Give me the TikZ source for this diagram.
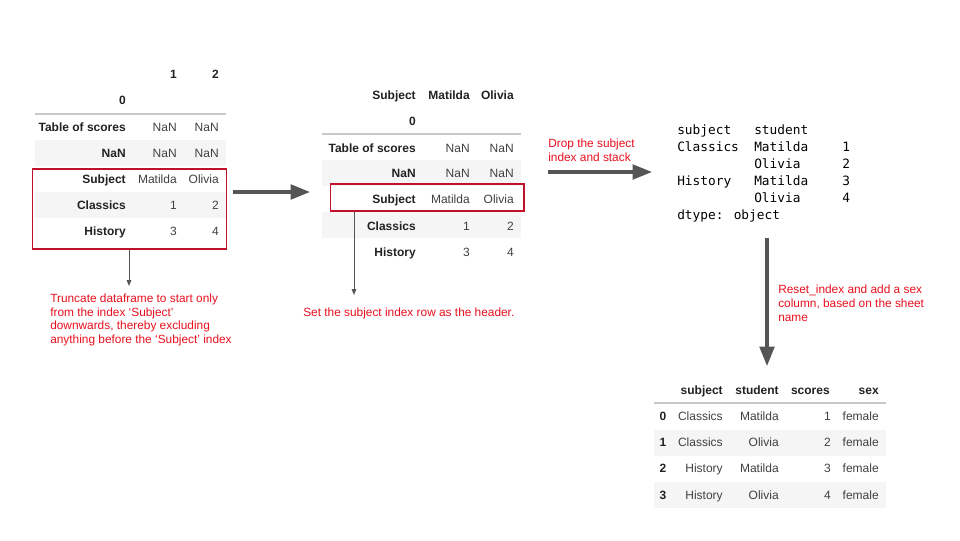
\documentclass[tikz,border=0pt]{standalone}
\usepackage{fontspec}
\setmainfont{Liberation Sans}
\newfontfamily\codefont{DejaVu Sans Mono}
\usetikzlibrary{arrows.meta}
\definecolor{txt}{HTML}{404040}
\definecolor{txtb}{HTML}{222222}
\definecolor{band}{HTML}{F5F5F5}
\definecolor{hline}{HTML}{C8C8C8}
\definecolor{boxred}{HTML}{C0102A}
\definecolor{notered}{HTML}{E8101E}
\definecolor{arrowgray}{HTML}{555555}
\tikzset{
  cell/.style={font=\fontsize{9}{10}\selectfont, text=txt, inner sep=0pt, anchor=base east},
  hcell/.style={cell, font=\fontsize{9}{10}\selectfont\bfseries, text=txtb},
  note/.style={font=\fontsize{8.9}{10.3}\selectfont, text=notered, align=left, anchor=north west, inner sep=0pt},
  mono/.style={font=\codefont\fontsize{9.6}{12}\selectfont, text=black, inner sep=0pt, anchor=base west},
  bandrow/.style={fill=band, draw=none},
  headline/.style={draw=hline, line width=0.8pt},
  redbox/.style={draw=boxred, line width=0.8pt},
  bigarrow/.style={draw=arrowgray, line width=2.3pt, -{Triangle[length=14.5pt,width=11pt]}},
  thinarrow/.style={draw=arrowgray, line width=0.7pt, -{Triangle[length=4.5pt,width=3.5pt]}},
}
\begin{document}
\begin{tikzpicture}[x=0.75pt,y=-0.75pt]
\useasboundingbox[fill=white] (0,0) rectangle (960,540);

% ---------- Table 1 ----------
\fill[bandrow] (35,140) rectangle (226,166);
\fill[bandrow] (35,192) rectangle (226,218);
\draw[headline] (35,114) -- (226,114);
\node[hcell] (t1h1) at (177,78) {1};
\node[hcell] (t1h2) at (219,78) {2};
\node[hcell] (t1h0) at (126,104) {0};
\node[hcell] (t1r1) at (126,131) {Table of scores};
\node[cell] (t1r1a) at (177,131) {NaN};
\node[cell] (t1r1b) at (219,131) {NaN};
\node[hcell] (t1r2) at (126,157) {NaN};
\node[cell] (t1r2a) at (177,157) {NaN};
\node[cell] (t1r2b) at (219,157) {NaN};
\node[hcell] (t1r3) at (126,183) {Subject};
\node[cell] (t1r3a) at (177,183) {Matilda};
\node[cell] (t1r3b) at (219,183) {Olivia};
\node[hcell] (t1r4) at (126,209) {Classics};
\node[cell] (t1r4a) at (177,209) {1};
\node[cell] (t1r4b) at (219,209) {2};
\node[hcell] (t1r5) at (126,235) {History};
\node[cell] (t1r5a) at (177,235) {3};
\node[cell] (t1r5b) at (219,235) {4};
\draw[redbox] (32.5,169) rectangle (226.5,249);
\coordinate (box1s) at (129,249.5);
\coordinate (note1t) at (129,286);
\draw[thinarrow] (box1s) -- (note1t);
\node[note] (note1) at (50,293.5) {Truncate dataframe to start only\\from the index ‘Subject’\\downwards, thereby excluding\\anything before the ‘Subject’ index};

% ---------- Arrow 1 ----------
\coordinate (a1s) at (233,192);
\coordinate (a1e) at (310,192);
\draw[bigarrow] (a1s) -- (a1e);

% ---------- Table 2 ----------
\fill[bandrow] (322,160) rectangle (521,186);
\fill[bandrow] (322,212) rectangle (521,238);
\draw[headline] (322,134) -- (521,134);
\node[hcell] (t2h0) at (416,99) {Subject};
\node[hcell] (t2h1) at (470,99) {Matilda};
\node[hcell] (t2h2) at (514,99) {Olivia};
\node[hcell] (t2h3) at (416,125) {0};
\node[hcell] (t2r1) at (416,152) {Table of scores};
\node[cell] (t2r1a) at (470,152) {NaN};
\node[cell] (t2r1b) at (514,152) {NaN};
\node[hcell] (t2r2) at (416,177) {NaN};
\node[cell] (t2r2a) at (470,177) {NaN};
\node[cell] (t2r2b) at (514,177) {NaN};
\node[hcell] (t2r3) at (416,203) {Subject};
\node[cell] (t2r3a) at (470,203) {Matilda};
\node[cell] (t2r3b) at (514,203) {Olivia};
\node[hcell] (t2r4) at (416,230) {Classics};
\node[cell] (t2r4a) at (470,230) {1};
\node[cell] (t2r4b) at (514,230) {2};
\node[hcell] (t2r5) at (416,256) {History};
\node[cell] (t2r5a) at (470,256) {3};
\node[cell] (t2r5b) at (514,256) {4};
\draw[redbox] (330.5,184) rectangle (524,211);
\coordinate (box2s) at (354,211.5);
\coordinate (note2t) at (354,295);
\draw[thinarrow] (box2s) -- (note2t);
\node[note, anchor=north west] (note2) at (303,307.5) {Set the subject index row as the header.};

% ---------- Arrow 2 ----------
\node[note] (note3) at (548,138.5) {Drop the subject\\index and stack};
\coordinate (a2s) at (548,172);
\coordinate (a2e) at (652,172);
\draw[bigarrow] (a2s) -- (a2e);

% ---------- Stacked series ----------
\node[mono] (s11) at (677,134) {subject};
\node[mono] (s12) at (754,134) {student};
\node[mono] (s21) at (677,151) {Classics};
\node[mono] (s22) at (754,151) {Matilda};
\node[mono] (s23) at (842,151) {1};
\node[mono] (s32) at (754,168) {Olivia};
\node[mono] (s33) at (842,168) {2};
\node[mono] (s41) at (677,185) {History};
\node[mono] (s42) at (754,185) {Matilda};
\node[mono] (s43) at (842,185) {3};
\node[mono] (s52) at (754,202) {Olivia};
\node[mono] (s53) at (842,202) {4};
\node[mono] (s61) at (677,219) {dtype: object};

% ---------- Arrow 3 ----------
\coordinate (a3s) at (767,238);
\coordinate (a3e) at (767,366);
\draw[bigarrow] (a3s) -- (a3e);
\node[note] (note4) at (778,285) {Reset\_index and add a sex\\column, based on the sheet\\name};

% ---------- Table 4 ----------
\fill[bandrow] (654,430) rectangle (886,456);
\fill[bandrow] (654,482) rectangle (886,508);
\draw[headline] (654,403) -- (886,403);
\node[hcell] (t4h1) at (723,394) {subject};
\node[hcell] (t4h2) at (779,394) {student};
\node[hcell] (t4h3) at (830,394) {scores};
\node[hcell] (t4h4) at (879,394) {sex};
\node[hcell, anchor=base] (t4i0) at (663,420) {0};
\node[cell] (t4a0) at (723,420) {Classics};
\node[cell] (t4b0) at (779,420) {Matilda};
\node[cell] (t4c0) at (831,420) {1};
\node[cell] (t4d0) at (879,420) {female};
\node[hcell, anchor=base] (t4i1) at (663,446) {1};
\node[cell] (t4a1) at (723,446) {Classics};
\node[cell] (t4b1) at (779,446) {Olivia};
\node[cell] (t4c1) at (831,446) {2};
\node[cell] (t4d1) at (879,446) {female};
\node[hcell, anchor=base] (t4i2) at (663,472) {2};
\node[cell] (t4a2) at (723,472) {History};
\node[cell] (t4b2) at (779,472) {Matilda};
\node[cell] (t4c2) at (831,472) {3};
\node[cell] (t4d2) at (879,472) {female};
\node[hcell, anchor=base] (t4i3) at (663,499) {3};
\node[cell] (t4a3) at (723,499) {History};
\node[cell] (t4b3) at (779,499) {Olivia};
\node[cell] (t4c3) at (831,499) {4};
\node[cell] (t4d3) at (879,499) {female};
\end{tikzpicture}
\end{document}
